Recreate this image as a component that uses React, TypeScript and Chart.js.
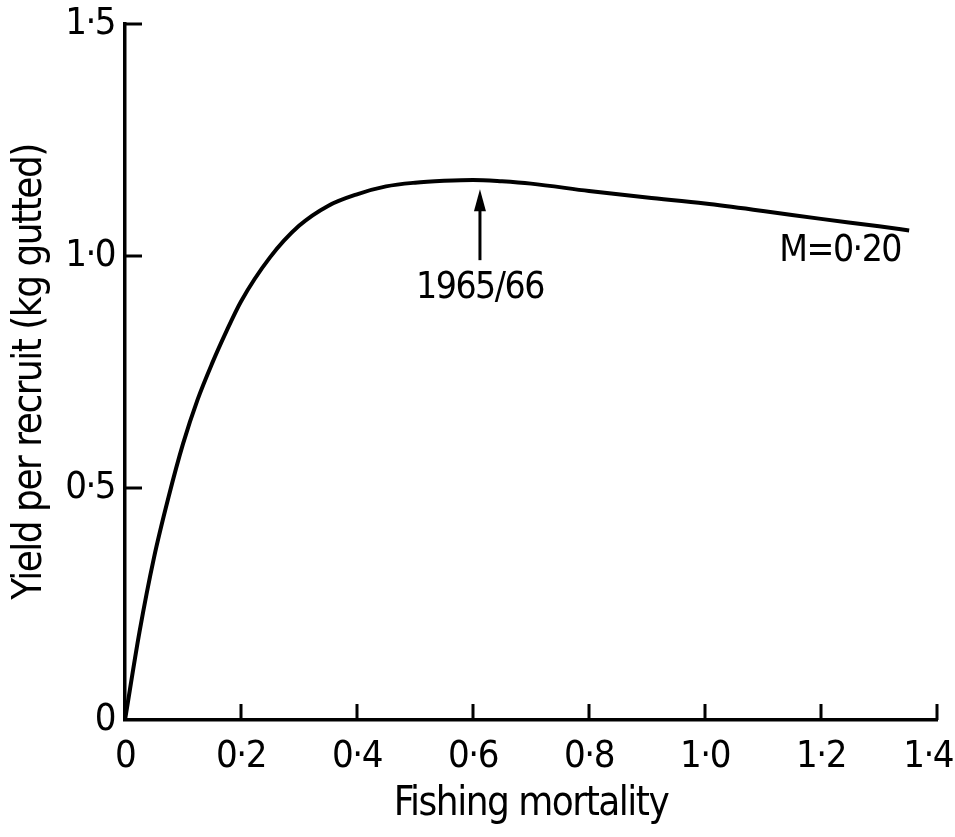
import { useEffect, useRef } from 'react'
import { Chart, registerables } from 'chart.js'

Chart.register(...registerables)

// yield-per-recruit curve
const fishingMortality = [
  0, 0.025, 0.05, 0.075, 0.1, 0.125, 0.15, 0.175, 0.2, 0.25, 0.3, 0.35, 0.4,
  0.45, 0.5, 0.55, 0.6, 0.65, 0.7, 0.8, 0.9, 1.0, 1.1, 1.2, 1.3, 1.352,
]
const yieldPerRecruit = [
  0, 0.19, 0.35, 0.48, 0.595, 0.69, 0.768, 0.838, 0.902, 0.997, 1.065, 1.108,
  1.133, 1.15, 1.158, 1.162, 1.164, 1.161, 1.156, 1.14, 1.126, 1.113, 1.097,
  1.08, 1.064, 1.055,
]
const xTickValues = [0, 0.2, 0.4, 0.6, 0.8, 1.0, 1.2, 1.4]
const yTickValues = [0, 0.5, 1.0, 1.5]

const xTitle = 'Fishing mortality'
const yTitle = 'Yield per recruit (kg gutted)'
const curveLabel = 'M=0·20'
const periodLabel = '1965/66'

// where the notes sit, in data units
const periodF = 0.612
const arrowTip = 1.144
const arrowTail = 0.991
const periodLabelY = 0.931
const curveLabelF = 1.233
const curveLabelY = 1.009

const FONT = "'DejaVu Sans Condensed', 'DejaVu Sans', sans-serif"
const TICK_SIZE = 38
const TICK_PAD = 14

const fmt = (v: number) => (v === 0 ? '0' : v.toFixed(1).replace('.', '·'))

const marksPlugin = {
  id: 'marks',
  beforeDraw(chart: any) {
    // the printed lettering is much narrower than any installed face
    chart.ctx.letterSpacing = '-1.5px'
  },
  afterDraw(chart: any) {
    const { ctx, chartArea, scales, width } = chart
    const x = scales.x
    const y = scales.y
    ctx.save()
    ctx.strokeStyle = '#000'
    ctx.fillStyle = '#000'
    ctx.lineWidth = 3

    // ticks point into the plot
    x.ticks.forEach((t: any) => {
      if (t.value === 0) return
      const px = x.getPixelForValue(t.value)
      ctx.beginPath()
      ctx.moveTo(px, chartArea.bottom)
      ctx.lineTo(px, chartArea.bottom - 16)
      ctx.stroke()
    })
    y.ticks.forEach((t: any) => {
      if (t.value === 0) return
      const py = y.getPixelForValue(t.value)
      ctx.beginPath()
      ctx.moveTo(chartArea.left, py)
      ctx.lineTo(chartArea.left + 17, py)
      ctx.stroke()
    })

    // last x label would run off the canvas, keep it inside the edge
    const last = x.ticks[x.ticks.length - 1]
    ctx.font = `${TICK_SIZE}px ${FONT}`
    ctx.textAlign = 'center'
    ctx.textBaseline = 'middle'
    const lastText = fmt(last.value)
    const half = ctx.measureText(lastText).width / 2
    const lx = Math.min(x.getPixelForValue(last.value), width - half - 2)
    ctx.fillText(lastText, lx, chartArea.bottom + TICK_PAD + (TICK_SIZE * 1.2) / 2)

    // arrow to 1965/66
    const ax = x.getPixelForValue(periodF)
    const tip = y.getPixelForValue(arrowTip)
    const tail = y.getPixelForValue(arrowTail)
    ctx.lineWidth = 3
    ctx.beginPath()
    ctx.moveTo(ax, tail)
    ctx.lineTo(ax, tip + 18)
    ctx.stroke()
    ctx.beginPath()
    ctx.moveTo(ax, tip)
    ctx.lineTo(ax - 6, tip + 22)
    ctx.lineTo(ax + 6, tip + 22)
    ctx.closePath()
    ctx.fill()

    ctx.font = `37px ${FONT}`
    ctx.fillText(periodLabel, ax, y.getPixelForValue(periodLabelY))
    ctx.fillText(curveLabel, x.getPixelForValue(curveLabelF), y.getPixelForValue(curveLabelY))
    ctx.restore()
  },
}

export default function App() {
  const canvasRef = useRef<HTMLCanvasElement>(null)

  useEffect(() => {
    if (!canvasRef.current) return
    const tickFont = { family: FONT, size: TICK_SIZE }
    const titleFont = { family: FONT, size: 40 }
    const chart = new Chart(canvasRef.current, {
      type: 'line',
      data: {
        datasets: [
          {
            data: fishingMortality.map((f, i) => ({ x: f, y: yieldPerRecruit[i] })),
            borderColor: '#000',
            borderWidth: 4,
            pointRadius: 0,
            fill: false,
            cubicInterpolationMode: 'monotone',
          },
        ],
      },
      options: {
        animation: false,
        responsive: true,
        maintainAspectRatio: false,
        layout: { padding: { top: 24, right: 18, bottom: 0, left: 0 } },
        plugins: {
          legend: { display: false },
          tooltip: { enabled: false },
        },
        scales: {
          x: {
            type: 'linear',
            min: 0,
            max: 1.4,
            afterBuildTicks: (scale: any) => {
              scale.ticks = xTickValues.map(v => ({ value: v }))
            },
            afterFit: (scale: any) => {
              scale.height = 117
              scale.paddingLeft = 0
              scale.paddingRight = 0
            },
            grid: { display: false, drawTicks: false },
            border: { display: true, color: '#000', width: 3.5 },
            ticks: {
              // the last label is drawn by the plugin
              color: (c: any) => (c.index === xTickValues.length - 1 ? 'rgba(0,0,0,0)' : '#000'),
              padding: TICK_PAD,
              maxRotation: 0,
              autoSkip: false,
              font: tickFont,
              callback: (v: any) => fmt(Number(v)),
            },
            title: {
              display: true,
              text: xTitle,
              color: '#000',
              font: titleFont,
              padding: { top: 0, bottom: 8 },
            },
          },
          y: {
            type: 'linear',
            min: 0,
            max: 1.5,
            afterBuildTicks: (scale: any) => {
              scale.ticks = yTickValues.map(v => ({ value: v }))
            },
            afterFit: (scale: any) => {
              scale.width = 125
              scale.paddingTop = 0
              scale.paddingBottom = 0
            },
            grid: { display: false, drawTicks: false },
            border: { display: true, color: '#000', width: 3.5 },
            ticks: {
              color: '#000',
              padding: 10,
              autoSkip: false,
              font: tickFont,
              callback: (v: any) => fmt(Number(v)),
            },
            title: {
              display: true,
              text: yTitle,
              color: '#000',
              font: titleFont,
              padding: { top: 7, bottom: 0 },
            },
          },
        },
      },
      plugins: [marksPlugin],
    } as any)
    return () => chart.destroy()
  }, [])

  return (
    <div style={{ position: 'absolute', left: 0, top: 0, width: 955, height: 837, background: '#fff' }}>
      <canvas ref={canvasRef} />
    </div>
  )
}
